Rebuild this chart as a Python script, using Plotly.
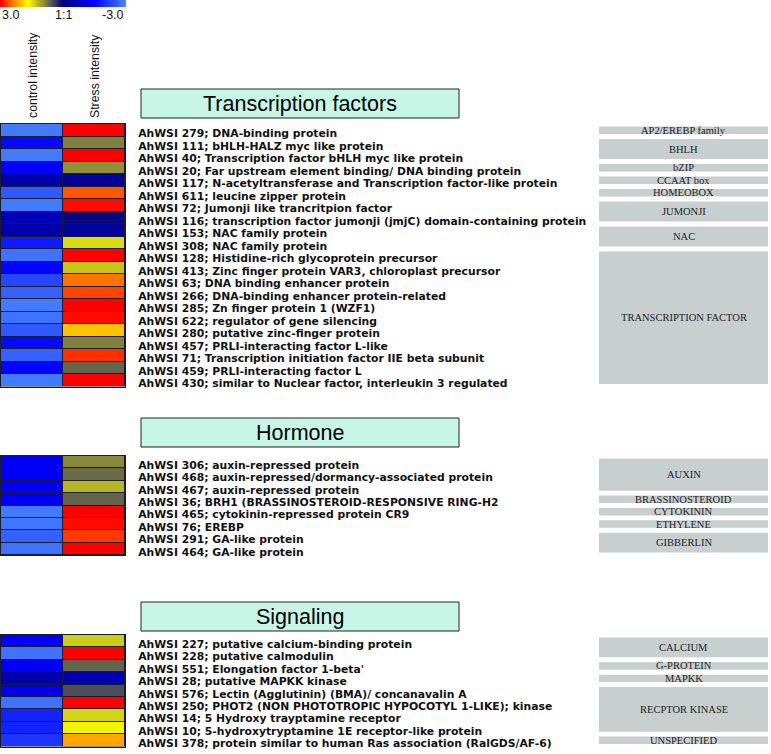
import numpy as np
import plotly.graph_objects as go

W, H = 771, 754

# ---------------- data ----------------
tf_labels = [
    "AhWSI 279; DNA-binding protein",
    "AhWSI 111; bHLH-HALZ myc like protein",
    "AhWSI 40; Transcription factor bHLH myc like protein",
    "AhWSI 20; Far upstream element binding/ DNA binding protein",
    "AhWSI 117; N-acetyltransferase and Transcription factor-like protein",
    "AhWSI 611; leucine zipper protein",
    "AhWSI 72; Jumonji like trancritpion factor",
    "AhWSI 116; transcription factor jumonji (jmjC) domain-containing protein",
    "AhWSI 153; NAC family protein",
    "AhWSI 308; NAC family protein",
    "AhWSI 128; Histidine-rich glycoprotein precursor",
    "AhWSI 413; Zinc finger protein VAR3, chloroplast precursor",
    "AhWSI 63; DNA binding enhancer protein",
    "AhWSI 266; DNA-binding enhancer protein-related",
    "AhWSI 285; Zn finger protein 1 (WZF1)",
    "AhWSI 622; regulator of gene silencing",
    "AhWSI 280; putative zinc-finger protein",
    "AhWSI 457; PRLI-interacting factor L-like",
    "AhWSI 71; Transcription initiation factor IIE beta subunit",
    "AhWSI 459; PRLI-interacting factor L",
    "AhWSI 430; similar to Nuclear factor, interleukin 3 regulated",
]
tf_control = [-2.9, -1.6, -2.9, -1.5, -0.5, -2.5, -2.9, -0.65, -0.5, -1.8, -2.8,
              -1.55, -2.3, -2.6, -2.9, -2.8, -2.5, -1.6, -2.6, -1.55, -2.9]
tf_stress = [3.0, 0.85, 3.0, 0.95, -0.25, 2.55, 2.95, 0.05, -0.35, 1.45, 3.0,
             1.3, 2.4, 2.65, 3.0, 2.95, 2.0, 0.85, 2.75, 0.65, 3.0]
tf_groups = [("AP2/EREBP family", 0, 0), ("BHLH", 1, 2), ("bZIP", 3, 3),
             ("CCAAT box", 4, 4), ("HOMEOBOX", 5, 5), ("JUMONJI", 6, 7),
             ("NAC", 8, 9), ("TRANSCRIPTION FACTOR", 10, 20)]

ho_labels = [
    "AhWSI 306; auxin-repressed protein",
    "AhWSI 468; auxin-repressed/dormancy-associated protein",
    "AhWSI 467; auxin-repressed protein",
    "AhWSI 36; BRH1 (BRASSINOSTEROID-RESPONSIVE RING-H2",
    "AhWSI 465; cytokinin-repressed protein CR9",
    "AhWSI 76; EREBP",
    "AhWSI 291; GA-like protein",
    "AhWSI 464; GA-like protein",
]
ho_control = [-1.4, -1.4, -1.45, -1.35, -2.9, -2.85, -2.6, -2.8]
ho_stress = [0.9, 0.7, 1.2, 0.65, 3.0, 2.95, 2.7, 3.0]
ho_groups = [("AUXIN", 0, 2), ("BRASSINOSTEROID", 3, 3), ("CYTOKININ", 4, 4),
             ("ETHYLENE", 5, 5), ("GIBBERLIN", 6, 7)]

sg_labels = [
    "AhWSI 227; putative calcium-binding protein",
    "AhWSI 228; putative calmodulin",
    "AhWSI 551; Elongation factor 1-beta'",
    "AhWSI 28; putative MAPKK kinase",
    "AhWSI 576; Lectin (Agglutinin) (BMA)/ concanavalin A",
    "AhWSI 250; PHOT2 (NON PHOTOTROPIC HYPOCOTYL 1-LIKE); kinase",
    "AhWSI 14; 5 Hydroxy trayptamine receptor",
    "AhWSI 10; 5-hydroxytryptamine 1E receptor-like protein",
    "AhWSI 378; protein similar to human Ras association (RalGDS/AF-6)",
]
sg_control = [-1.5, -2.8, -1.4, -0.5, -1.2, -2.8, -1.9, -1.9, -2.1]
sg_stress = [1.35, 3.0, 0.65, -0.6, 0.5, 3.0, 1.4, 1.6, 2.15]
sg_groups = [("CALCIUM", 0, 1), ("G-PROTEIN", 2, 2), ("MAPKK", 3, 3),
             ("RECPTOR KINASE", 4, 7), ("UNSPECIFIED", 8, 8)]

section_titles = ["Transcription factors", "Hormone", "Signaling"]
column_names = ["control intensity", "Stress intensity"]
scale_ticks = [3.0, 0.0, -3.0]
scale_ticktext = ["3.0", "1:1", "-3.0"]

# ---------------- style ----------------
colorscale = [
    [0.0, "#4884ff"],
    [0.25, "#0000ff"],
    [0.5, "#000080"],
    [0.78, "#ffff00"],
    [0.89, "#ff8000"],
    [1.0, "#ff0000"],
]
border = "#1c1c2a"
mint = "#c8f6e6"
gray = "#c8cfcf"
label_font = dict(family="DejaVu Sans", size=10.8, color="#111111",
                  weight="bold")

def px_y(p):
    return 1 - p / H

def px_x(p):
    return p / W

sections = [
    (tf_labels, tf_control, tf_stress, tf_groups, 124, 386.5, 89, 118),
    (ho_labels, ho_control, ho_stress, ho_groups, 456, 555, 418, 447),
    (sg_labels, sg_control, sg_stress, sg_groups, 635, 746.5, 602, 631),
]

fig = go.Figure()
layout = dict(
    width=W, height=H, margin=dict(l=0, r=0, t=0, b=0),
    paper_bgcolor="white", plot_bgcolor=border, template="none",
    showlegend=False,
)
shapes, annotations = [], []
hm_x0, hm_x1 = px_x(1), px_x(125)

for i, (labels, ctrl, strs, groups, top, bot, btop, bbot) in enumerate(sections):
    n = len(labels)
    k = "" if i == 0 else str(i + 1)
    fig.add_trace(go.Heatmap(
        z=[[c, s] for c, s in zip(ctrl, strs)],
        x=[0, 1], y=list(range(n)),
        colorscale=colorscale, zmin=-3, zmax=3, showscale=False,
        xgap=1, ygap=1, xaxis="x" + k, yaxis="y" + k,
        hovertemplate="%{z}<extra></extra>",
    ))
    layout["xaxis" + k] = dict(
        domain=[hm_x0, hm_x1], anchor="y" + k, range=[-0.5, 1.5],
        showticklabels=False, ticks="", showgrid=False, zeroline=False,
        showline=True, mirror=True, linecolor=border, linewidth=1,
        automargin=False,
    )
    layout["yaxis" + k] = dict(
        domain=[px_y(bot), px_y(top)], anchor="x" + k, range=[n - 0.5, -0.5],
        side="right", tickmode="array", tickvals=list(range(n)), ticktext=labels,
        ticks="", ticklabelstandoff=10, ticklabelshift=-3,
        tickfont=label_font,
        showgrid=False, zeroline=False, showline=True, mirror=True,
        linecolor=border, linewidth=1, automargin=False,
    )
    # section title box
    shapes.append(dict(type="rect", xref="paper", yref="paper",
                       x0=px_x(141), x1=px_x(459), y0=px_y(bbot), y1=px_y(btop),
                       fillcolor=mint, line=dict(color="#222222", width=1),
                       layer="below"))
    annotations.append(dict(text=section_titles[i], xref="paper", yref="paper",
                            x=px_x(300), y=px_y((btop + bbot) / 2),
                            xanchor="center", yanchor="middle", showarrow=False,
                            font=dict(family="Liberation Sans, Arial", size=21.5,
                                      color="#000000")))
    # category boxes
    for name, a, b in groups:
        shapes.append(dict(type="rect", xref="paper", yref="y" + k,
                           x0=px_x(599), x1=px_x(768),
                           y0=a - 0.5 + 0.2, y1=b + 0.5 - 0.2,
                           fillcolor=gray, line=dict(width=0), layer="above"))
        annotations.append(dict(text=name, xref="paper", yref="y" + k,
                                x=px_x(683.5), y=(a + b) / 2,
                                xanchor="center", yanchor="middle",
                                showarrow=False,
                                font=dict(family="Liberation Serif, Times New Roman",
                                          size=10.5, color="#222222")))

# colour ramp legend
ramp = np.linspace(scale_ticks[0], scale_ticks[-1], 121)
fig.add_trace(go.Heatmap(
    z=[ramp], x=ramp, y=[0], colorscale=colorscale, zmin=-3, zmax=3,
    showscale=False, xaxis="x4", yaxis="y4", hoverinfo="skip",
))
layout["xaxis4"] = dict(domain=[0, px_x(126)], anchor="y4",
                        range=[ramp[0], ramp[-1]], visible=False)
layout["yaxis4"] = dict(domain=[px_y(7), 1], anchor="x4", visible=False)
for v, t, xa in zip(scale_ticks, scale_ticktext, ["left", "center", "right"]):
    annotations.append(dict(text=t, xref="x4", yref="paper", x=v, y=px_y(15),
                            xanchor=xa, yanchor="middle", showarrow=False,
                            font=dict(family="Liberation Sans, Arial", size=12.5,
                                      color="#111111")))

# column headers
for name, cx in zip(column_names, [33, 95]):
    annotations.append(dict(text=name, xref="paper", yref="paper",
                            x=px_x(cx), y=px_y(120), xanchor="center",
                            yanchor="bottom", textangle=-90, showarrow=False,
                            font=dict(family="Liberation Sans, Arial", size=12.3,
                                      color="#111111")))

layout["shapes"] = shapes
layout["annotations"] = annotations
fig.update_layout(**layout)
fig.write_html("out.html", config={"displayModeBar": False},
               post_script="document.body.style.margin='0';"
                           "document.body.style.padding='0';")
